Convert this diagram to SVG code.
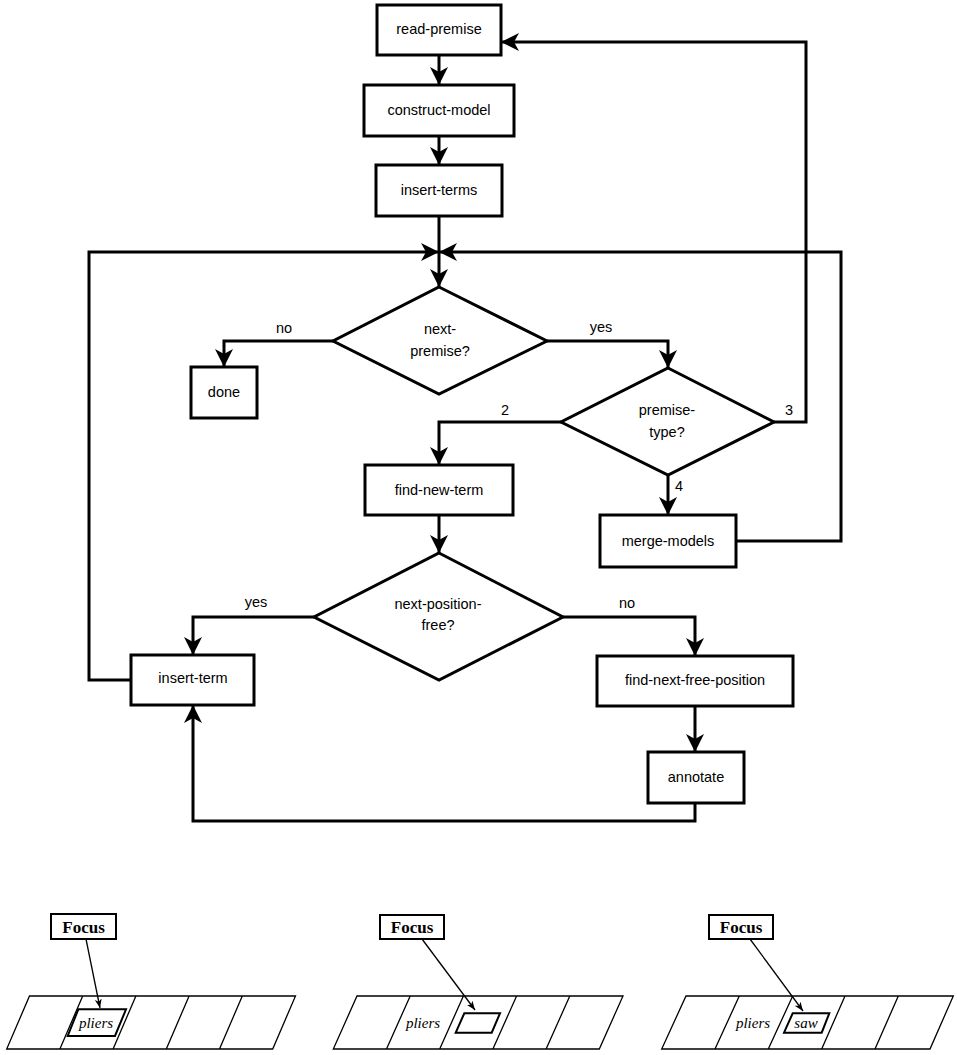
<svg xmlns="http://www.w3.org/2000/svg" width="957" height="1055" viewBox="0 0 957 1055">
<style>
.bx{fill:#fff;stroke:#000;stroke-width:3}
.t{font-family:"Liberation Sans",Arial,sans-serif;font-size:14.5px;text-anchor:middle;dominant-baseline:central;fill:#000}
.ca{fill:none;stroke:#000;stroke-width:3;marker-end:url(#ah)}
.th{fill:none;stroke:#000;stroke-width:1.3}
.fb{fill:#fff;stroke:#000;stroke-width:2}
.fa{fill:none;stroke:#000;stroke-width:1.3;marker-end:url(#sa)}
.f{font-family:"Liberation Serif","Times New Roman",serif;font-weight:bold;font-size:17px;text-anchor:middle;dominant-baseline:central}
.i{font-family:"Liberation Serif","Times New Roman",serif;font-style:italic;font-size:15px;text-anchor:middle;dominant-baseline:central}
</style>
<defs>
<marker id="ah" markerUnits="userSpaceOnUse" markerWidth="20" markerHeight="20" viewBox="-18 -10 20 20" refX="0" refY="0" orient="auto"><path d="M0,0 L-18,-9 L-13,0 L-18,9 z" fill="#000"/></marker>
<marker id="sa" markerUnits="userSpaceOnUse" markerWidth="10" markerHeight="8" viewBox="-9 -4 10 8" refX="0" refY="0" orient="auto"><path d="M0,0 L-9,-3.5 L-6.5,0 L-9,3.5 z" fill="#000"/></marker>
</defs>
<rect width="957" height="1055" fill="#fff"/>

<g id="connectors">
<path class="ca" d="M439,55 V85"/>
<path class="ca" d="M439,135 V165"/>
<path class="ca" d="M439,216 V287"/>
<path class="ca" d="M131,680 H89 V252 H439"/>
<path class="ca" d="M736,541 H841 V252 H439"/>
<path class="ca" d="M333,341 H224 V367"/>
<path class="ca" d="M547,341 H668 V368"/>
<path class="ca" d="M561,422 H439 V465"/>
<path class="ca" d="M774,422 H806 V42 H501"/>
<path class="ca" d="M668,475 V515"/>
<path class="ca" d="M439,515 V553"/>
<path class="ca" d="M314,617 H193 V655"/>
<path class="ca" d="M563,617 H695 V656"/>
<path class="ca" d="M695,706 V752"/>
<path class="ca" d="M695,803 V821 H193 V705"/>
<text class="t" x="284" y="328">no</text>
<text class="t" x="601" y="327">yes</text>
<text class="t" x="505" y="410">2</text>
<text class="t" x="789" y="410">3</text>
<text class="t" x="679" y="486">4</text>
<text class="t" x="256" y="602">yes</text>
<text class="t" x="627" y="603">no</text>
</g>

<g id="read-premise"><rect class="bx" x="377" y="5" width="124" height="50"/><text class="t" x="439" y="29">read-premise</text></g>
<g id="construct-model"><rect class="bx" x="364" y="85" width="150" height="51"/><text class="t" x="439" y="110">construct-model</text></g>
<g id="insert-terms"><rect class="bx" x="376" y="165" width="126" height="51"/><text class="t" x="439" y="190">insert-terms</text></g>
<g id="next-premise"><polygon class="bx" points="439,287 547,341 439,394 333,341"/><text class="t" x="440" y="329">next-</text><text class="t" x="440" y="351">premise?</text></g>
<g id="done"><rect class="bx" x="191" y="367" width="66" height="51"/><text class="t" x="224" y="392">done</text></g>
<g id="premise-type"><polygon class="bx" points="668,368 774,422 668,475 561,422"/><text class="t" x="667" y="410">premise-</text><text class="t" x="667" y="432">type?</text></g>
<g id="find-new-term"><rect class="bx" x="365" y="465" width="148" height="50"/><text class="t" x="439" y="490">find-new-term</text></g>
<g id="merge-models"><rect class="bx" x="600" y="515" width="136" height="52"/><text class="t" x="668" y="541">merge-models</text></g>
<g id="next-position-free"><polygon class="bx" points="439,553 563,617 439,680 314,617"/><text class="t" x="438" y="604">next-position-</text><text class="t" x="438" y="625">free?</text></g>
<g id="insert-term"><rect class="bx" x="131" y="655" width="123" height="50"/><text class="t" x="193" y="678">insert-term</text></g>
<g id="find-next-free-position"><rect class="bx" x="597" y="656" width="196" height="50"/><text class="t" x="695" y="680">find-next-free-position</text></g>
<g id="annotate"><rect class="bx" x="648" y="752" width="96" height="51"/><text class="t" x="696" y="777">annotate</text></g>

<g id="panel1">
<path class="th" d="M29.5,996 H295.5 L272.7,1049 H6.7 Z M82.7,996 L59.9,1049 M135.9,996 L113.1,1049 M189.1,996 L166.3,1049 M242.3,996 L219.5,1049"/>
<polygon class="fb" points="78.3,1009.3 126,1009.3 115,1036 67.7,1036"/>
<text class="i" x="96" y="1023">pliers</text>
<rect class="fb" x="51" y="914" width="65" height="25"/>
<text class="f" x="83.5" y="927">Focus</text>
<path class="fa" d="M86,939 L100,1008"/>
</g>

<g id="panel2">
<path class="th" d="M357,996 H623 L599.3,1049 H333.3 Z M410.2,996 L386.5,1049 M463.4,996 L439.7,1049 M516.6,996 L492.9,1049 M569.8,996 L546.1,1049"/>
<polygon class="fb" points="464.3,1013.3 500,1013.3 491.7,1032.7 455.7,1032.7"/>
<text class="i" x="423" y="1023">pliers</text>
<rect class="fb" x="380" y="915" width="64" height="24"/>
<text class="f" x="412" y="927">Focus</text>
<path class="fa" d="M422,939 L475,1010"/>
</g>

<g id="panel3">
<path class="th" d="M686,996 H953.3 L930,1049 H661.7 Z M739.3,996 L715,1049 M792.7,996 L768.3,1049 M845,996 L821.7,1049 M898.3,996 L875,1049"/>
<polygon class="fb" points="792.7,1013.3 829.3,1013.3 821.7,1032.7 784,1032.7"/>
<text class="i" x="753" y="1023">pliers</text>
<text class="i" x="806" y="1023">saw</text>
<rect class="fb" x="709" y="915" width="64" height="24"/>
<text class="f" x="741" y="927">Focus</text>
<path class="fa" d="M750,939 L803,1011"/>
</g>
</svg>
